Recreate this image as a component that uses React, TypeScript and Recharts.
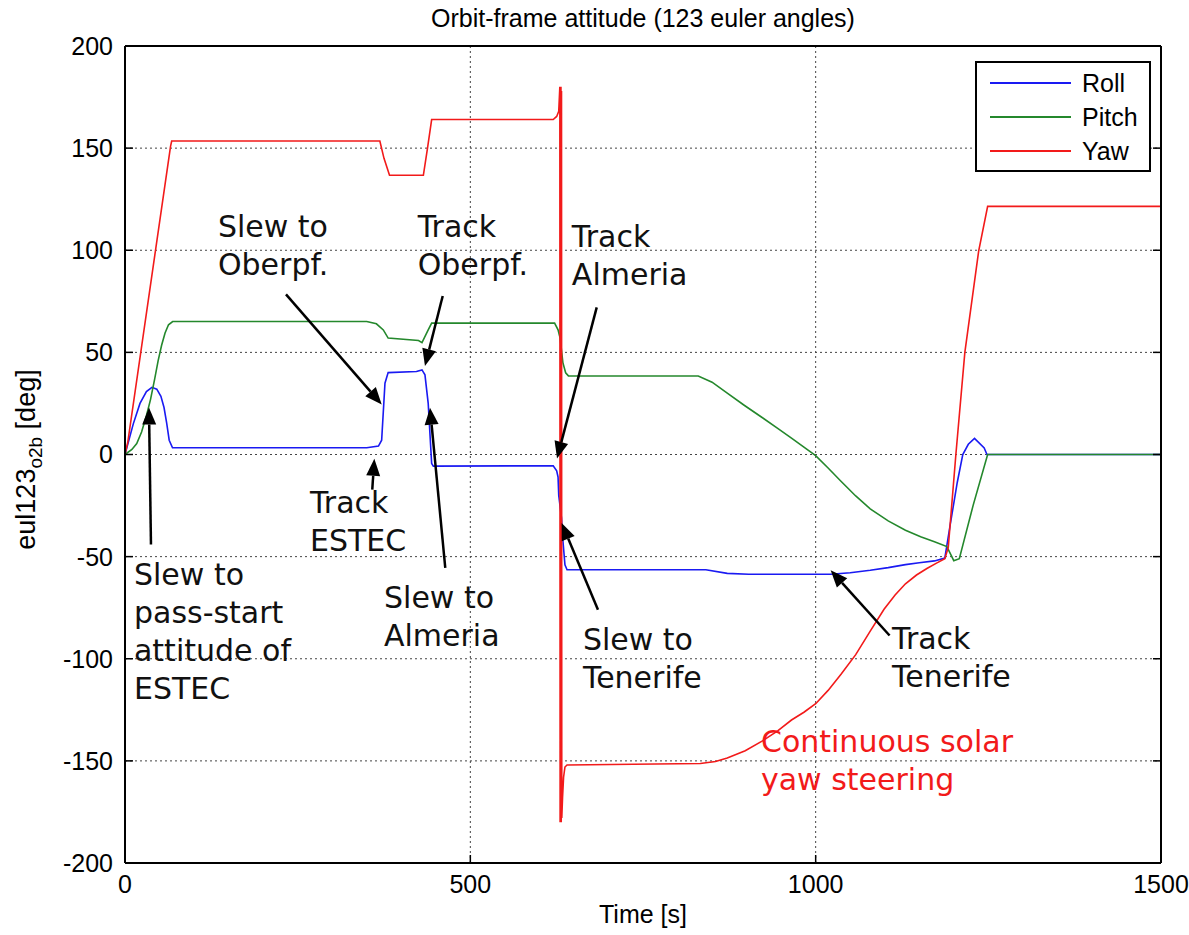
import {
  LineChart,
  Line,
  XAxis,
  YAxis,
  CartesianGrid,
  Legend,
  ReferenceLine,
  ReferenceDot,
} from 'recharts';

const chartTitle = 'Orbit-frame attitude (123 euler angles)';
const timeTicks = [0, 500, 1000, 1500];
const angleTicks = [-200, -150, -100, -50, 0, 50, 100, 150, 200];

// [time s, angle deg]
const roll: [number, number][] = [
  [0, 0], [12, 15], [21.7, 25], [31, 30.8], [39, 32.9], [46, 32], [52, 28.5], [56.5, 23], [60.3, 15.5],
  [64, 7], [68.8, 3.3], [350, 3.3], [367, 4.1], [371.6, 7], [376.4, 34.9], [381, 40.1],
  [422, 40.6], [430, 41.4], [434.3, 39], [439, 25], [444, -4.4], [446.4, -5.7], [620, -5.5],
  [625, -8], [627, -11], [628, -20], [632, -31], [634, -42], [637, -54], [640, -56.4],
  [841, -56.4], [872, -58.2], [903, -58.6], [1022, -58.6], [1050, -57.9], [1079, -56.7],
  [1105, -55.4], [1130, -53.9], [1150, -53], [1172, -52.1], [1187, -50.7], [1195, -34],
  [1205, -13.7], [1213, 0], [1221, 5], [1230, 7.9], [1244, 3.2], [1248, 0], [1500, 0],
];

const pitch: [number, number][] = [
  [0, 0], [10, 2.5], [17, 5.4], [24, 11], [31, 19], [37, 27], [43, 37], [48, 46], [53, 53.5],
  [58, 59.5], [63, 63.5], [69, 65.1], [350, 65.1], [364, 64], [374, 61], [381, 57], [425, 55.8],
  [430, 54.8], [439, 61], [444, 64.3], [622, 64.3], [627, 61], [630, 57], [634, 45], [638, 40],
  [642, 38.5], [830, 38.4], [850, 35.4], [872, 30], [897, 24], [923, 18], [945, 12.8],
  [965, 8], [983, 3.6], [1000, -0.6], [1018, -6.6], [1037, -13.2], [1058, -20.3], [1079, -26.6],
  [1105, -32.5], [1130, -37.1], [1152, -40.3], [1172, -42.7], [1190, -45.1], [1200, -52],
  [1208, -51], [1228, -24.9], [1249, 0], [1500, 0],
];

const yaw: [number, number][] = [
  [0, 0], [4, 6], [66, 151], [67.6, 153.5], [369, 153.5], [375, 145], [383, 136.7], [432, 136.7],
  [438, 150], [444, 164], [620, 164], [625, 165.5], [628, 168], [629.6, 180], [630, -180],
  [630.4, 180], [630.8, -180], [631.2, 180], [631.6, -180], [632, 178], [632.4, -178],
  [633.5, -168], [635, -158], [637, -153], [640, -152], [833, -151.3], [855, -150.3],
  [872, -148.6], [898, -145], [923, -140.2], [945, -135.3], [965, -130], [983, -126.2],
  [1000, -122], [1018, -115.5], [1037, -107.5], [1058, -98], [1079, -86.5], [1099, -75.8],
  [1115, -68.8], [1130, -63.3], [1146, -59], [1161, -55.8], [1175, -53.2], [1187, -51],
  [1192, -45.5], [1203, 0], [1216, 50], [1236, 99.6], [1249, 121.5], [1500, 121.5],
];

const seriesNames = ['Roll', 'Pitch', 'Yaw'];
const seriesColors = ['#1a1af2', '#24882c', '#f21a1a'];
const seriesPoints = [roll, pitch, yaw];

// annotation text (first baseline at `at`) and arrow tail -> head, all in data units
const notes = [
  { lines: ['Slew to', 'pass-start', 'attitude of', 'ESTEC'], at: [13, -63.7], tail: [37.6, -44.1], head: [34.7, 23] },
  { lines: ['Track', 'ESTEC'], at: [267.8, -28.4], tail: [358, -17.2], head: [361, -2.1] },
  { lines: ['Slew to', 'Oberpf.'], at: [134.6, 106.4], tail: [233.1, 78.4], head: [371.7, 24.5] },
  { lines: ['Track', 'Oberpf.'], at: [423.8, 106.4], tail: [460, 77.6], head: [434.3, 43.3] },
  { lines: ['Slew to', 'Almeria'], at: [375, -75], tail: [463.7, -55.5], head: [441.6, 22.9] },
  { lines: ['Track', 'Almeria'], at: [647, 101.5], tail: [683, 72], head: [625.5, -2] },
  { lines: ['Slew to', 'Tenerife'], at: [663, -95.6], tail: [684.8, -76], head: [632.2, -33.5] },
  { lines: ['Track', 'Tenerife'], at: [1110.5, -95.1], tail: [1107, -88.6], head: [1021.7, -56.7] },
  { lines: ['Continuous solar', 'yaw steering'], at: [920.8, -145.6], color: '#f21a1a' },
];

const axisFont = '"Liberation Sans", Arial, sans-serif';
const noteFont = '"DejaVu Sans", Verdana, sans-serif';

const toRows = (pts: [number, number][]) => pts.map(([t, v]) => ({ t, v }));

function Arrow(props: any) {
  const { x1, y1, x2, y2 } = props;
  const dx = x2 - x1;
  const dy = y2 - y1;
  const len = Math.sqrt(dx * dx + dy * dy) || 1;
  const ux = dx / len;
  const uy = dy / len;
  const headLen = 17;
  const half = 7;
  const bx = x2 - ux * headLen;
  const by = y2 - uy * headLen;
  return (
    <g>
      <line x1={x1} y1={y1} x2={bx} y2={by} stroke="#000" strokeWidth={2.5} />
      <polygon
        points={`${x2},${y2} ${bx - uy * half},${by + ux * half} ${bx + uy * half},${by - ux * half}`}
        fill="#000"
      />
    </g>
  );
}

function noteShape(lines: string[], color: string) {
  return (props: any) => (
    <text x={props.cx} y={props.cy} fontFamily={noteFont} fontSize={30} fill={color}>
      {lines.map((l, i) => (
        <tspan key={i} x={props.cx} dy={i === 0 ? 0 : 38}>
          {l}
        </tspan>
      ))}
    </text>
  );
}

function YLabel(props: any) {
  const { viewBox } = props;
  const cx = viewBox.x + 35;
  const cy = viewBox.y + viewBox.height / 2 + 5;
  return (
    <text
      x={cx}
      y={cy}
      transform={`rotate(-90 ${cx} ${cy})`}
      textAnchor="middle"
      fontFamily={axisFont}
      fontSize={27}
      fill="#000"
    >
      eul123
      <tspan fontSize={19} dy={7}>
        o2b
      </tspan>
      <tspan dy={-7}>{' [deg]'}</tspan>
    </text>
  );
}

function LegendBox() {
  return (
    <div
      style={{
        border: '2px solid #000',
        background: '#fff',
        width: 172,
        height: 107,
        position: 'relative',
        fontFamily: axisFont,
        fontSize: 25,
      }}
    >
      {seriesNames.map((name, i) => (
        <div
          key={name}
          style={{ position: 'absolute', left: 0, top: 5 + i * 34, height: 30, display: 'flex', alignItems: 'center' }}
        >
          <div style={{ marginLeft: 13, width: 81, height: 2, background: seriesColors[i] }} />
          <span style={{ marginLeft: 11, color: '#000' }}>{name}</span>
        </div>
      ))}
    </div>
  );
}

export default function App() {
  const axisStroke = { stroke: '#000', strokeWidth: 2 };
  const tickStroke = { stroke: '#000', strokeWidth: 1.5 };
  const tickStyle = { fill: '#000', fontSize: 25, fontFamily: axisFont };
  return (
    <div style={{ position: 'absolute', left: 0, top: 0, width: 1189, height: 935, background: '#fff' }}>
      <LineChart width={1189} height={935} margin={{ top: 45, right: 27, bottom: 0, left: 0 }}>
        <CartesianGrid stroke="#444" strokeDasharray="2 3" strokeWidth={1} />
        <XAxis
          dataKey="t"
          type="number"
          domain={[0, 1500]}
          ticks={timeTicks}
          interval={0}
          height={72}
          tickSize={-8}
          tickMargin={20}
          axisLine={axisStroke}
          tickLine={tickStroke}
          tick={tickStyle}
          label={{ value: 'Time [s]', position: 'insideBottom', offset: 12, fill: '#000', fontSize: 25, fontFamily: axisFont }}
        />
        <XAxis
          xAxisId="top"
          orientation="top"
          type="number"
          domain={[0, 1500]}
          allowDataOverflow
          ticks={timeTicks}
          interval={0}
          height={1}
          tickSize={-8}
          axisLine={axisStroke}
          tickLine={tickStroke}
          tickFormatter={() => ''}
          label={{ value: chartTitle, position: 'top', offset: 18, fill: '#000', fontSize: 25, fontFamily: axisFont }}
        />
        <YAxis
          type="number"
          domain={[-200, 200]}
          ticks={angleTicks}
          interval={0}
          width={125}
          tickSize={-8}
          tickMargin={20}
          axisLine={axisStroke}
          tickLine={tickStroke}
          tick={tickStyle}
          label={YLabel}
        />
        <YAxis
          yAxisId="right"
          orientation="right"
          type="number"
          domain={[-200, 200]}
          allowDataOverflow
          ticks={angleTicks}
          interval={0}
          width={1}
          tickSize={-8}
          axisLine={axisStroke}
          tickLine={tickStroke}
          tickFormatter={() => ''}
        />
        {seriesPoints.map((pts, i) => (
          <Line
            key={seriesNames[i]}
            name={seriesNames[i]}
            data={toRows(pts)}
            dataKey="v"
            type="linear"
            stroke={seriesColors[i]}
            strokeWidth={1.6}
            dot={false}
            activeDot={false}
            isAnimationActive={false}
          />
        ))}
        {notes.map((n, i) =>
          n.tail && n.head ? (
            <ReferenceLine
              key={`arrow-${i}`}
              segment={[
                { x: n.tail[0], y: n.tail[1] },
                { x: n.head[0], y: n.head[1] },
              ]}
              ifOverflow="visible"
              shape={Arrow}
            />
          ) : null
        )}
        {notes.map((n, i) => (
          <ReferenceDot
            key={`note-${i}`}
            x={n.at[0]}
            y={n.at[1]}
            r={0}
            ifOverflow="visible"
            shape={noteShape(n.lines, n.color || '#111')}
          />
        ))}
        <Legend
          layout="horizontal"
          verticalAlign="middle"
          align="center"
          content={() => <LegendBox />}
          wrapperStyle={{ position: 'absolute', left: 975, top: 61, width: 176, height: 111 }}
        />
      </LineChart>
    </div>
  );
}
